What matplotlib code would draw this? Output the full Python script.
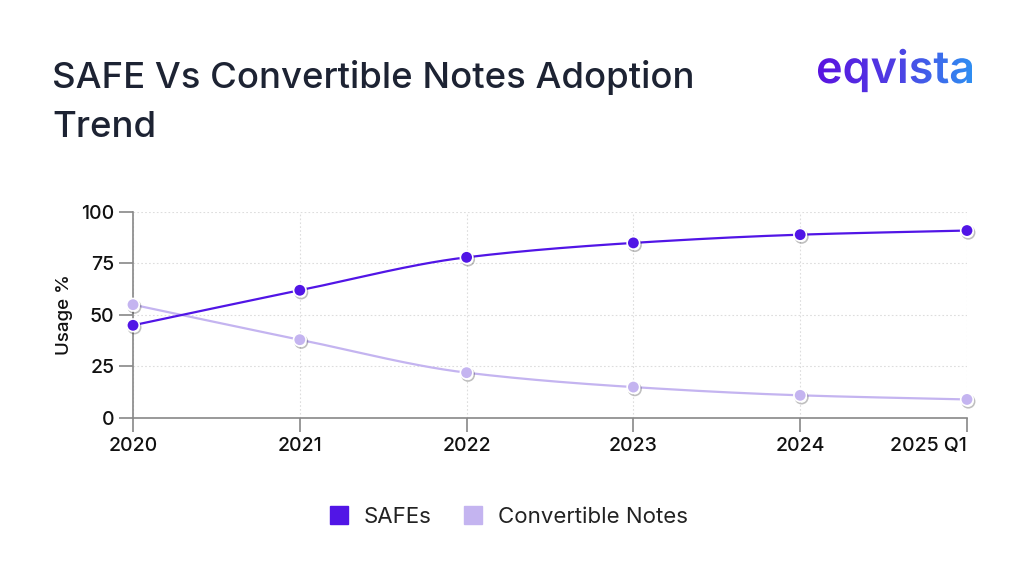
import numpy as np
import matplotlib.pyplot as plt
import matplotlib.patheffects as pe
from matplotlib.colors import LinearSegmentedColormap
from matplotlib.font_manager import FontProperties
from matplotlib.lines import Line2D
from matplotlib.patches import PathPatch
from matplotlib.textpath import TextPath
from matplotlib.transforms import Affine2D

years = ['2020', '2021', '2022', '2023', '2024', '2025 Q1']
safes = [45, 62, 78, 85, 89, 91]
notes = [55, 38, 22, 15, 11, 9]

SAFE_C = '#5115E6'
NOTE_C = '#C4B4F0'
TXT = '#1d2333'

plt.rcParams['font.family'] = ['Inter', 'DejaVu Sans']


def smooth(y, n=30):
    '''Monotone cubic hermite curve through the points.'''
    x = np.arange(len(y), dtype=float)
    y = np.asarray(y, dtype=float)
    d = np.diff(y)
    m = np.zeros_like(y)
    m[0], m[-1] = d[0], d[-1]
    for i in range(1, len(y) - 1):
        m[i] = 0 if d[i - 1] * d[i] <= 0 else 2 / (1 / d[i - 1] + 1 / d[i])
    xs, ys = [], []
    for i in range(len(y) - 1):
        t = np.linspace(0, 1, n)
        h00 = 2 * t**3 - 3 * t**2 + 1
        h10 = t**3 - 2 * t**2 + t
        h01 = -2 * t**3 + 3 * t**2
        h11 = t**3 - t**2
        xs.append(x[i] + t)
        ys.append(h00 * y[i] + h10 * m[i] + h01 * y[i + 1] + h11 * m[i + 1])
    return np.concatenate(xs), np.concatenate(ys)


fig = plt.figure(figsize=(10.24, 5.85), dpi=100)
ax = fig.add_axes([0.1299, 0.2855, 0.9443 - 0.1299, 0.6376 - 0.2855])

shadow = [pe.SimpleLineShadow(offset=(1, -1.5), alpha=0.25), pe.Normal()]
for vals, col in ((notes, NOTE_C), (safes, SAFE_C)):
    xs, ys = smooth(vals)
    ax.plot(xs, ys, color=col, lw=1.6, zorder=3, clip_on=False)
    ax.plot(range(len(vals)), vals, ls='none', marker='o', ms=9,
            mfc=col, mec='white', mew=1.2, zorder=4, clip_on=False,
            path_effects=shadow)

ax.set_xlim(0, 5)
ax.set_ylim(0, 100)
ax.set_xticks(range(len(years)))
ax.set_xticklabels(years)
ax.set_yticks([0, 25, 50, 75, 100])
ax.grid(True, color='#dddddd', ls=(0, (1.5, 2)), lw=0.8)
ax.set_axisbelow(True)
for s in ['top', 'right']:
    ax.spines[s].set_visible(False)
for s in ['left', 'bottom']:
    ax.spines[s].set_color('#888888')
    ax.spines[s].set_linewidth(1.2)
ax.tick_params(axis='both', colors='#888888', labelcolor='#111111',
               labelsize=14, length=10, width=1.2)
ax.tick_params(axis='x', pad=4)
for lbl in ax.get_xticklabels() + ax.get_yticklabels():
    lbl.set_fontweight('medium')
ax.get_xticklabels()[-1].set_ha('right')
ax.get_xticklabels()[-1].set_x(5.03)
ax.set_ylabel('Usage %', fontsize=13.5, color='#111111', fontweight='medium',
              labelpad=6)

# legend
handles = [Line2D([], [], ls='none', marker='s', ms=13, mfc=c, mec=c)
           for c in (SAFE_C, NOTE_C)]
fig.legend(handles, ['SAFEs', 'Convertible Notes'], loc='center',
           bbox_to_anchor=(0.496, 0.116), ncol=2, frameon=False, fontsize=16,
           handlelength=1.0, handletextpad=0.6, columnspacing=1.36,
           labelcolor='#222222')

# title, two lines placed on their baselines
fig.text(0.051, 1 - 88.3 / 585, 'SAFE Vs Convertible Notes Adoption',
         fontsize=26.3, color=TXT, va='baseline', ha='left',
         fontweight='medium')
fig.text(0.051, 1 - 137.3 / 585, 'Trend',
         fontsize=26.3, color=TXT, va='baseline', ha='left',
         fontweight='medium')

# logo: text path filled with a purple-to-blue gradient
lax = fig.add_axes([0, 0, 1, 1], zorder=5)
lax.set_xlim(0, 1024)
lax.set_ylim(0, 585)
lax.axis('off')
tp = TextPath((0, 0), 'eqvista', size=42,
              prop=FontProperties(family='Inter', weight='semibold'))
ext = tp.get_extents()
sc = 154 / ext.width
tr = Affine2D().translate(-ext.x0, 0).scale(sc).translate(818, 585 - 83)
patch = PathPatch(tp, transform=tr + lax.transData, fc='none', ec='none')
lax.add_patch(patch)
cmap = LinearSegmentedColormap.from_list('logo', ['#5a14e0', '#4f3ee4',
                                                  '#2f8ef2'])
grad = np.linspace(0, 1, 256).reshape(1, -1)
im = lax.imshow(grad, cmap=cmap, extent=[818, 972, 585 - 100, 585 - 45],
                aspect='auto', origin='lower')
im.set_clip_path(patch)

fig.savefig('out.png', dpi=100, facecolor='white')
